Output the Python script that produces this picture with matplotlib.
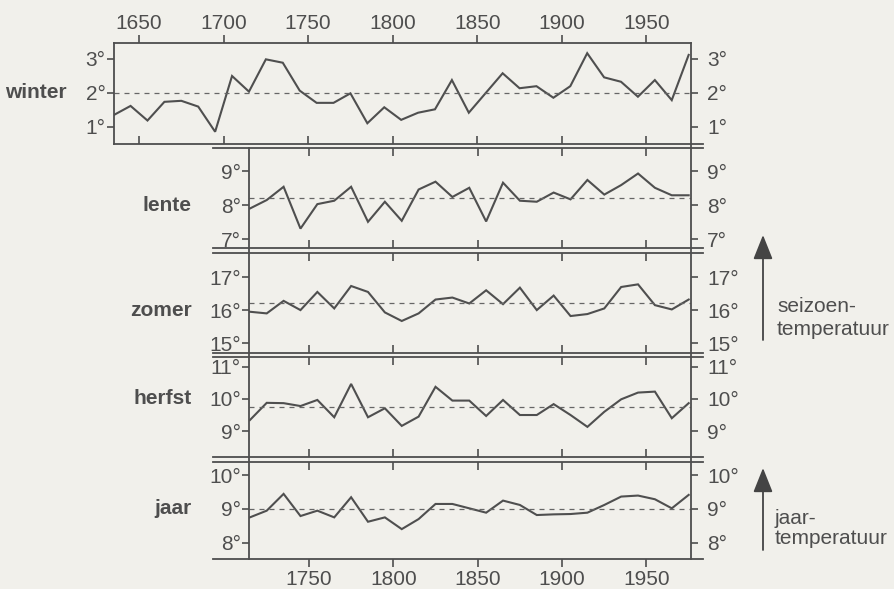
import matplotlib
matplotlib.use('Agg')
import matplotlib.pyplot as plt
from matplotlib.lines import Line2D

W, H = 895, 589
plt.rcParams['font.family'] = ['Liberation Sans', 'DejaVu Sans']
ink = '#4e4e4e'
paper = '#f1f0eb'

# decade means
jaren_winter = list(range(1635, 1976, 10))
winter = [1.35, 1.62, 1.19, 1.74, 1.77, 1.60, 0.86, 2.50, 2.04, 2.99,
          2.89, 2.07, 1.71, 1.71, 1.99, 1.11, 1.58, 1.21, 1.42, 1.52,
          2.38, 1.42, 2.00, 2.58, 2.14, 2.20, 1.86, 2.20, 3.17, 2.46,
          2.33, 1.89, 2.38, 1.79, 3.12]

jaren = list(range(1715, 1976, 10))
lente = [7.90, 8.15, 8.54, 7.31, 8.03, 8.13, 8.54, 7.51, 8.10, 7.54,
         8.46, 8.69, 8.24, 8.51, 7.52, 8.66, 8.13, 8.10, 8.37, 8.17,
         8.74, 8.31, 8.59, 8.93, 8.51, 8.29, 8.29]
zomer = [15.95, 15.90, 16.28, 16.00, 16.55, 16.05, 16.73, 16.55, 15.93, 15.67,
         15.90, 16.32, 16.38, 16.20, 16.60, 16.18, 16.68, 16.00, 16.44, 15.82,
         15.88, 16.05, 16.70, 16.78, 16.15, 16.02, 16.32]
herfst = [9.34, 9.88, 9.87, 9.78, 9.97, 9.43, 10.47, 9.43, 9.71, 9.16,
          9.45, 10.38, 9.95, 9.95, 9.47, 9.97, 9.50, 9.50, 9.84, 9.50,
          9.13, 9.60, 9.99, 10.20, 10.23, 9.40, 9.87]
jaar = [8.75, 8.95, 9.45, 8.79, 8.95, 8.75, 9.35, 8.62, 8.75, 8.40,
        8.70, 9.15, 9.15, 9.02, 8.89, 9.25, 9.12, 8.82, 8.84, 8.85,
        8.89, 9.12, 9.37, 9.40, 9.29, 9.02, 9.42]

gemiddeld = {'winter': 2.0, 'lente': 8.21, 'zomer': 16.23, 'herfst': 9.76, 'jaar': 9.0}
yticks = {'winter': [1, 2, 3], 'lente': [7, 8, 9], 'zomer': [15, 16, 17],
          'herfst': [9, 10, 11], 'jaar': [8, 9, 10]}
ylims = {'winter': (0.50, 3.47), 'lente': (6.74, 9.68), 'zomer': (14.70, 17.73),
         'herfst': (8.19, 11.31), 'jaar': (7.51, 10.40)}
label_y = {'winter': 2, 'lente': 8, 'zomer': 16, 'herfst': 10, 'jaar': 9}

# pixel boxes (x0, y0, x1, y1), y from the top
boxes = {'winter': (114, 43, 690.7, 144),
         'lente': (249, 148, 690.7, 248),
         'zomer': (249, 253, 690.7, 353),
         'herfst': (249, 357, 690.7, 457),
         'jaar': (249, 462, 690.7, 559)}

series = {'winter': (jaren_winter, winter), 'lente': (jaren, lente),
          'zomer': (jaren, zomer), 'herfst': (jaren, herfst), 'jaar': (jaren, jaar)}


def frac(b):
    x0, y0, x1, y1 = b
    return [x0 / W, 1 - y1 / H, (x1 - x0) / W, (y1 - y0) / H]


def fline(x0, y0, x1, y1, lw=1.3):
    fig.add_artist(Line2D([x0 / W, x1 / W], [1 - y0 / H, 1 - y1 / H],
                          transform=fig.transFigure, color=ink, lw=lw))


fig = plt.figure(figsize=(W / 100, H / 100), dpi=100, facecolor=paper)
fs = 15
tick_kw = dict(length=5, width=1.2, color=ink, labelcolor=ink, labelsize=fs)

for name in ['winter', 'lente', 'zomer', 'herfst', 'jaar']:
    b = boxes[name]
    ax = fig.add_axes(frac(b))
    ax.set_facecolor('none')
    x, y = series[name]
    ax.plot(x, y, color='#4f4f4f', lw=1.5, solid_joinstyle='miter')
    ax.axhline(gemiddeld[name], color='#666666', lw=0.9, ls=(0, (4, 4)))
    ax.set_xlim(1635.2 if name == 'winter' else 1714.5, 1976.2)
    ax.set_ylim(*ylims[name])
    for s in ['top', 'bottom', 'left', 'right']:
        ax.spines[s].set_visible(False)

    labels = [f'{v}°' for v in yticks[name]]
    ax.set_yticks(yticks[name])
    ax.set_yticklabels(labels)
    ax.tick_params(axis='y', left=True, right=False, direction='out', pad=1, **tick_kw)
    rechts = ax.secondary_yaxis('right')
    rechts.set_yticks(yticks[name])
    rechts.set_yticklabels(labels)
    rechts.tick_params(direction='out', pad=7, **tick_kw)
    rechts.spines['right'].set_visible(False)

    xt = [1650, 1700, 1750, 1800, 1850, 1900, 1950] if name == 'winter' else [1750, 1800, 1850, 1900, 1950]
    ax.set_xticks(xt)
    ax.tick_params(axis='x', direction='in', length=6, width=1.2, color=ink,
                   top=(name != 'winter'), bottom=(name != 'jaar'),
                   labelbottom=False, labeltop=False)

    if name in ('winter', 'jaar'):
        sec = ax.secondary_xaxis('top' if name == 'winter' else 'bottom')
        sec.set_xticks(xt)
        sec.set_xticklabels([str(v) for v in xt])
        sec.tick_params(direction='out', length=6, width=1.2, color=ink,
                        labelcolor=ink, labelsize=fs, pad=1 if name == 'winter' else 2)
        for s in sec.spines.values():
            s.set_visible(False)

    lx = (67 - b[0]) / (b[2] - b[0]) if name == 'winter' else (192 - b[0]) / (b[2] - b[0])
    ax.text(lx, label_y[name], name, transform=ax.get_yaxis_transform(),
            ha='right', va='center', fontsize=fs, fontweight='bold', color=ink)

# frame lines: panel edges and the double separators
fline(114, 43, 690.7, 43)
fline(114, 43, 114, 144)
fline(114, 144, 703, 144)
for top_y, bot_y in [(148, 248), (253, 353), (357, 457), (462, 559)]:
    fline(213, top_y, 703, top_y)
    fline(213, bot_y, 703, bot_y)
fline(249, 148, 249, 559)
fline(690.7, 43, 690.7, 559)

# arrows with captions
arrow = dict(arrowstyle='-|>,head_length=0.75,head_width=0.3', lw=1.3, color='#444444',
             mutation_scale=20, shrinkA=0, shrinkB=0)
fig.text(777 / W, 1 - 307 / H, 'seizoen-', fontsize=fs, color=ink, va='center')
fig.text(777 / W, 1 - 329 / H, 'temperatuur', fontsize=fs, color=ink, va='center')
fig.text(775 / W, 1 - 518 / H, 'jaar-', fontsize=fs, color=ink, va='center')
fig.text(775 / W, 1 - 538 / H, 'temperatuur', fontsize=fs, color=ink, va='center')
ax0 = fig.axes[0]
ax0.annotate('', xy=(763, H - 235), xytext=(763, H - 340), xycoords='figure pixels',
             textcoords='figure pixels', arrowprops=arrow)
ax0.annotate('', xy=(763, H - 468), xytext=(763, H - 550), xycoords='figure pixels',
             textcoords='figure pixels', arrowprops=arrow)

fig.savefig('out.png', dpi=100, facecolor=paper)
